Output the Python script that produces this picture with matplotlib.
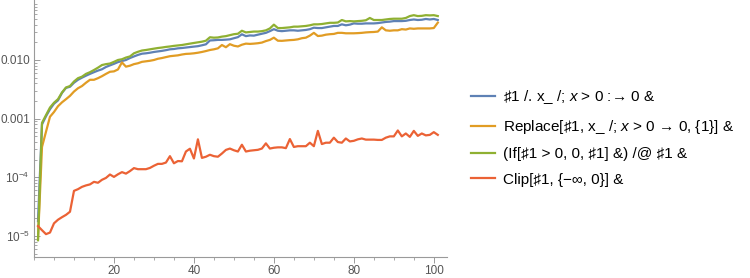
import numpy as np
import matplotlib.pyplot as plt
from matplotlib.ticker import FixedLocator, FixedFormatter

plt.rcParams['font.family'] = ['Liberation Sans', 'DejaVu Sans']
plt.rcParams['mathtext.fontset'] = 'custom'
plt.rcParams['mathtext.rm'] = 'Liberation Sans'
plt.rcParams['mathtext.it'] = 'Liberation Sans:italic'

n = np.arange(1, 102)

replace_all = [
    1.8e-5, 8.0e-4, 1.1e-3, 1.45e-3, 1.8e-3, 2.05e-3, 2.75e-3, 3.35e-3, 3.5e-3, 4.1e-3,
    4.6e-3, 5.0e-3, 5.4e-3, 5.8e-3, 6.2e-3, 6.6e-3, 6.95e-3, 7.6e-3, 8.1e-3, 8.6e-3,
    9.2e-3, 9.6e-3, 1.0e-2, 1.08e-2, 1.15e-2, 1.22e-2, 1.28e-2, 1.3e-2, 1.33e-2, 1.37e-2,
    1.4e-2, 1.43e-2, 1.47e-2, 1.52e-2, 1.54e-2, 1.58e-2, 1.6e-2, 1.63e-2, 1.66e-2, 1.69e-2,
    1.72e-2, 1.78e-2, 1.85e-2, 2.15e-2, 2.17e-2, 2.2e-2, 2.2e-2, 2.22e-2, 2.25e-2, 2.35e-2,
    2.45e-2, 2.74e-2, 2.55e-2, 2.62e-2, 2.6e-2, 2.7e-2, 2.8e-2, 2.9e-2, 3.1e-2, 3.35e-2,
    3.15e-2, 3.1e-2, 3.15e-2, 3.2e-2, 3.2e-2, 3.15e-2, 3.2e-2, 3.25e-2, 3.35e-2, 3.55e-2,
    3.5e-2, 3.5e-2, 3.6e-2, 3.7e-2, 3.8e-2, 3.8e-2, 4.05e-2, 3.9e-2, 4.0e-2, 4.2e-2,
    4.15e-2, 4.15e-2, 4.2e-2, 4.2e-2, 4.2e-2, 4.25e-2, 4.35e-2, 4.45e-2, 4.5e-2, 4.6e-2,
    4.6e-2, 4.6e-2, 4.65e-2, 4.8e-2, 4.9e-2, 4.8e-2, 4.85e-2, 5.0e-2, 4.9e-2, 5.0e-2,
    4.8e-2,
]

replace_level = [
    9.0e-6, 3.3e-4, 6.0e-4, 1.08e-3, 1.3e-3, 1.63e-3, 1.9e-3, 2.15e-3, 2.45e-3, 2.9e-3,
    3.3e-3, 3.6e-3, 4.1e-3, 4.6e-3, 4.6e-3, 4.9e-3, 5.3e-3, 5.8e-3, 6.3e-3, 6.4e-3,
    6.9e-3, 9.1e-3, 7.7e-3, 8.0e-3, 8.5e-3, 8.8e-3, 9.3e-3, 9.5e-3, 9.7e-3, 1.0e-2,
    1.05e-2, 1.08e-2, 1.12e-2, 1.16e-2, 1.18e-2, 1.2e-2, 1.24e-2, 1.27e-2, 1.28e-2, 1.3e-2,
    1.33e-2, 1.37e-2, 1.42e-2, 1.48e-2, 1.52e-2, 1.58e-2, 1.8e-2, 1.65e-2, 1.86e-2, 1.75e-2,
    1.7e-2, 1.82e-2, 1.9e-2, 1.88e-2, 1.9e-2, 1.93e-2, 1.98e-2, 2.1e-2, 2.2e-2, 2.4e-2,
    2.13e-2, 2.12e-2, 2.15e-2, 2.18e-2, 2.2e-2, 2.25e-2, 2.35e-2, 2.4e-2, 2.6e-2, 2.9e-2,
    2.56e-2, 2.6e-2, 2.7e-2, 2.75e-2, 2.78e-2, 2.9e-2, 2.9e-2, 2.85e-2, 2.85e-2, 2.85e-2,
    2.87e-2, 2.9e-2, 2.95e-2, 2.98e-2, 3.0e-2, 3.05e-2, 3.6e-2, 3.2e-2, 3.15e-2, 3.2e-2,
    3.2e-2, 3.35e-2, 3.3e-2, 3.45e-2, 3.4e-2, 3.45e-2, 3.45e-2, 3.45e-2, 3.45e-2, 3.5e-2,
    4.33e-2,
]

if_map = [
    8.5e-6, 8.5e-4, 1.15e-3, 1.55e-3, 1.87e-3, 2.15e-3, 2.8e-3, 3.4e-3, 3.6e-3, 4.3e-3,
    4.9e-3, 5.2e-3, 5.8e-3, 6.2e-3, 6.75e-3, 7.4e-3, 8.2e-3, 8.5e-3, 8.7e-3, 9.3e-3,
    1.0e-2, 1.03e-2, 1.1e-2, 1.15e-2, 1.3e-2, 1.38e-2, 1.45e-2, 1.48e-2, 1.52e-2, 1.56e-2,
    1.6e-2, 1.63e-2, 1.67e-2, 1.7e-2, 1.74e-2, 1.77e-2, 1.8e-2, 1.85e-2, 1.9e-2, 1.95e-2,
    2.0e-2, 2.05e-2, 2.13e-2, 2.44e-2, 2.4e-2, 2.42e-2, 2.5e-2, 2.55e-2, 2.65e-2, 2.75e-2,
    2.8e-2, 3.15e-2, 2.95e-2, 3.0e-2, 3.05e-2, 3.05e-2, 3.1e-2, 3.2e-2, 3.45e-2, 4.0e-2,
    3.5e-2, 3.5e-2, 3.55e-2, 3.6e-2, 3.7e-2, 3.7e-2, 3.75e-2, 3.8e-2, 3.9e-2, 4.05e-2,
    4.05e-2, 4.1e-2, 4.2e-2, 4.3e-2, 4.3e-2, 4.35e-2, 4.8e-2, 4.55e-2, 4.6e-2, 4.55e-2,
    4.6e-2, 4.65e-2, 4.75e-2, 5.2e-2, 4.8e-2, 4.8e-2, 4.8e-2, 4.9e-2, 5.0e-2, 5.05e-2,
    5.05e-2, 5.05e-2, 5.2e-2, 5.6e-2, 5.8e-2, 5.6e-2, 5.65e-2, 5.8e-2, 5.75e-2, 5.8e-2,
    5.6e-2,
]

clip = [
    1.48e-5, 1.26e-5, 1.08e-5, 1.15e-5, 1.65e-5, 1.9e-5, 2.1e-5, 2.3e-5, 2.6e-5, 5.9e-5,
    6.3e-5, 6.9e-5, 7.3e-5, 7.6e-5, 8.4e-5, 8.1e-5, 9.1e-5, 9.8e-5, 1.12e-4, 1.02e-4,
    1.13e-4, 1.23e-4, 1.16e-4, 1.28e-4, 1.44e-4, 1.38e-4, 1.38e-4, 1.38e-4, 1.45e-4, 1.58e-4,
    1.7e-4, 1.7e-4, 1.79e-4, 2.3e-4, 1.74e-4, 1.9e-4, 1.88e-4, 2.76e-4, 3.08e-4, 2.1e-4,
    4.45e-4, 2.15e-4, 2.25e-4, 2.43e-4, 2.3e-4, 2.25e-4, 2.55e-4, 2.94e-4, 3.1e-4, 2.9e-4,
    2.76e-4, 3.6e-4, 2.76e-4, 2.85e-4, 2.9e-4, 2.95e-4, 3.1e-4, 3.8e-4, 3.1e-4, 3.2e-4,
    3.25e-4, 3.25e-4, 3.15e-4, 4.5e-4, 3.3e-4, 3.4e-4, 3.4e-4, 3.4e-4, 3.9e-4, 3.4e-4,
    6.2e-4, 3.7e-4, 3.9e-4, 3.9e-4, 4.75e-4, 4.0e-4, 3.9e-4, 4.6e-4, 4.1e-4, 4.2e-4,
    4.45e-4, 4.6e-4, 4.4e-4, 4.4e-4, 4.4e-4, 4.35e-4, 4.35e-4, 4.75e-4, 5.0e-4, 5.0e-4,
    6.3e-4, 5.0e-4, 5.6e-4, 4.9e-4, 6.2e-4, 5.1e-4, 5.6e-4, 5.2e-4, 5.3e-4, 5.9e-4,
    5.3e-4,
]

labels = [
    "♯1 /. x_ /; $x$ > 0 :→ 0 &",
    "Replace[♯1, x_ /; $x$ > 0 → 0, {1}] &",
    "(If[♯1 > 0, 0, ♯1] &) /@ ♯1 &",
    "Clip[♯1, {−∞, 0}] &",
]
colors = ["#5E81B5", "#E19C24", "#8FB032", "#EB6235"]

fig = plt.figure(figsize=(7.5, 2.78), dpi=100)
ax = fig.add_axes([34 / 750, 21 / 278, 413 / 750, 257 / 278])

for ys, c, lab in zip([replace_all, replace_level, if_map, clip], colors, labels):
    ax.plot(n, ys, color=c, lw=1.6, label=lab)

ax.set_yscale('log')
ax.set_xlim(0, 103.3)
ax.set_ylim(10 ** -5.356, 10 ** -0.978)

major = [1e-5, 1e-4, 1e-3, 1e-2]
ax.yaxis.set_major_locator(FixedLocator(major))
ax.yaxis.set_major_formatter(FixedFormatter([r"$10^{-5}$", r"$10^{-4}$", "0.001", "0.010"]))
minor = [m * 10.0 ** e for e in range(-6, -1) for m in range(2, 10)]
ax.yaxis.set_minor_locator(FixedLocator(minor))
ax.yaxis.set_minor_formatter(FixedFormatter([]))

ax.xaxis.set_major_locator(FixedLocator([20, 40, 60, 80, 100]))
ax.xaxis.set_minor_locator(FixedLocator(list(range(0, 105, 5))))

for s in ['top', 'right']:
    ax.spines[s].set_visible(False)
for s in ['left', 'bottom']:
    ax.spines[s].set_color('#9a9a9a')
    ax.spines[s].set_linewidth(0.8)

ax.tick_params(which='major', length=4, width=0.7, color='#9a9a9a',
               labelcolor='#555555', labelsize=8.5)
ax.tick_params(which='minor', length=2.5, width=0.6, color='#9a9a9a')
ax.tick_params(axis='y', which='both', direction='in', pad=3)
ax.tick_params(axis='x', which='both', direction='out', pad=2)

fig.legend(loc='center left', bbox_to_anchor=(457 / 750, 0.505), frameon=False,
           fontsize=11, handlelength=1.6, handletextpad=0.5, labelspacing=0.75)

fig.savefig('out.png', dpi=100)
